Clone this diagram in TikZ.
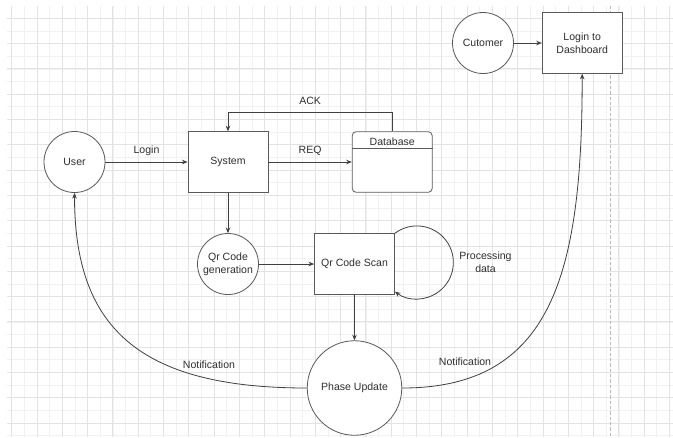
\documentclass[tikz,border=0pt]{standalone}
\usepackage{fontspec}
\setmainfont{Liberation Sans}
\usepackage{xcolor}
\usetikzlibrary{arrows.meta}
\definecolor{gridmajor}{HTML}{E3E3E3}
\definecolor{gridminor}{HTML}{F1F1F1}
\definecolor{shapeline}{HTML}{5A5A5A}
\definecolor{edgeline}{HTML}{404040}
\definecolor{ink}{HTML}{2E2E2E}

\begin{document}
\begin{tikzpicture}[x=0.75pt,y=0.75pt,
		every node/.style={font=\fontsize{7.9}{9.7}\selectfont, text=ink, align=center},
		proc/.style={circle, draw=shapeline, line width=0.6pt, fill=white, minimum size=45.75pt, inner sep=0pt},
		box/.style={rectangle, draw=shapeline, line width=0.6pt, fill=white, minimum width=60pt, minimum height=45.5pt, inner sep=0pt},
		store/.style={box, rounded corners=3pt},
		flow/.style={draw=edgeline, line width=0.6pt, -{Stealth[length=4.2pt,width=3.4pt]}}]
				\useasboundingbox (0,0) rectangle (673,-437);
				\fill[white] (0,0) rectangle (673,-437);

				% grid
				\foreach \k in {0,...,52}
					\draw[gridminor, line width=0.6pt] ({11.7+12.65*\k},-6) -- ({11.7+12.65*\k},-437);
				\foreach \k in {0,...,33}
					\draw[gridminor, line width=0.6pt] (7,{-18.3-12.65*\k}) -- (673,{-18.3-12.65*\k});
				\foreach \k in {0,...,26}
					\draw[gridmajor, line width=0.7pt] ({11.7+25.3*\k},-6) -- ({11.7+25.3*\k},-437);
				\foreach \k in {0,...,16}
					\draw[gridmajor, line width=0.7pt] (7,{-18.3-25.3*\k}) -- (673,{-18.3-25.3*\k});
				\draw[gray!55, line width=0.6pt, dash pattern=on 2.5pt off 1.5pt] (610.5,-6) -- (610.5,-437);

				\node[proc] (user) at (74.5,-162) {User};
				\node[box] (sys) at (228,-162) {System};
				\node[store] (db) at (392.2,-162) {};
				\draw[shapeline, line width=0.6pt] ([yshift=-13pt]db.north west) -- ([yshift=-13pt]db.north east);
				\node (dbname) at (392.2,-141.5) {Database};
				\node[proc] (qrgen) at (228,-264) {Qr Code\\generation};
				\node[box] (scan) at (354.5,-264) {Qr Code Scan};
				\node[proc, minimum size=70.9pt] (phase) at (354.5,-388) {Phase Update};
				\node[proc] (cust) at (483,-43) {Cutomer};
				\node[box] (board) at (582.2,-43) {Login to\\Dashboard};

				\draw[flow] (user) -- node[yshift=8.3pt] (loginlbl) {Login} (sys);
				\draw[flow] (sys) -- node[yshift=8.3pt] (reqlbl) {REQ} (db);
				\draw[flow] (db.north) -- ++(0,19) -| node[pos=0.25, yshift=8.5pt] (acklbl) {ACK} (sys.north);
				\draw[flow] (sys) -- (qrgen);
				\draw[flow] (qrgen) -- (scan);
				\draw[flow] (scan.north east) arc[start angle=127, end angle=-127, radius=36.5];
				\node (proclbl) at (485.5,-262.5) {Processing\\data};
				\draw[flow] (scan) -- (phase);

				% notifications
				\draw[flow] (phase.west) .. controls +(-170,0) and +(0,-133) .. (user.south);
				\node (notelbl1) at (209,-365) {Notification};
				\draw[flow] (phase.east) .. controls +(150,0) and +(0,-200) .. (board.south);
				\node (notelbl2) at (465,-361.7) {Notification};
				\draw[flow] (cust) -- (board);
			\end{tikzpicture}
\end{document}
